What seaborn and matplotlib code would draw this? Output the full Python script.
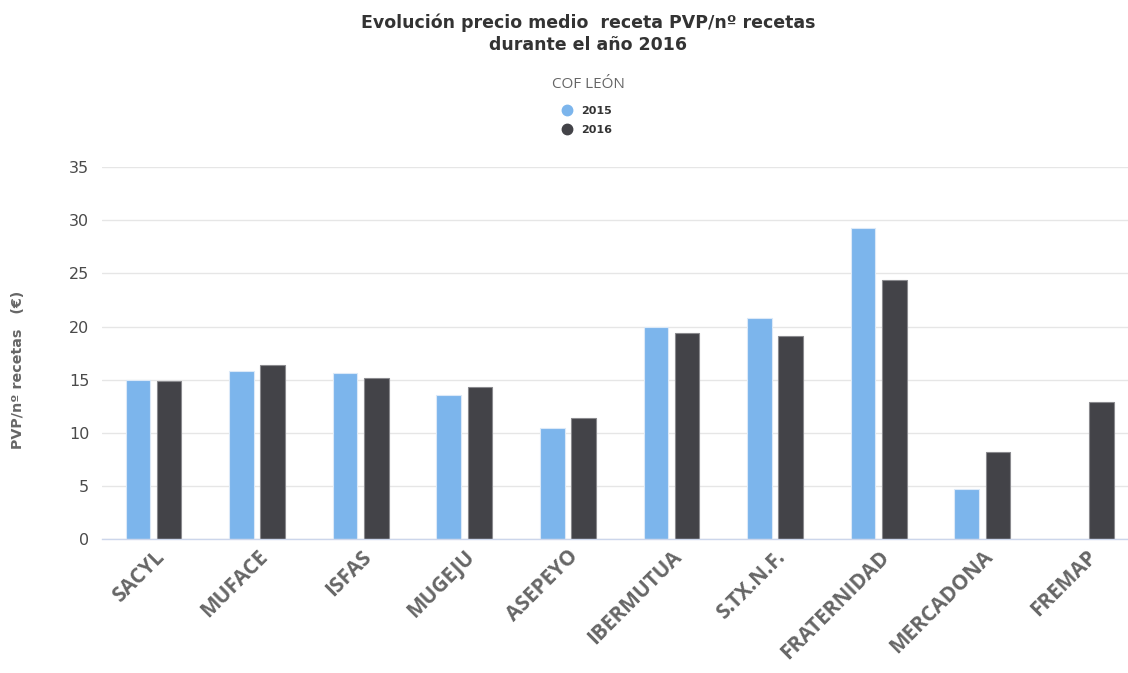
"""
Evolución precio medio receta PVP/nº recetas - COF León
"""

import pandas as pd
import numpy as np
import matplotlib
matplotlib.use("Agg")
import matplotlib.pyplot as plt
from matplotlib.lines import Line2D
import seaborn as sns

# ── Data
entidades = ["SACYL", "MUFACE", "ISFAS", "MUGEJU", "ASEPEYO",
             "IBERMUTUA", "S.TX.N.F.", "FRATERNIDAD", "MERCADONA", "FREMAP"]
precio_2015 = [15.0, 15.8, 15.6, 13.6, 10.5, 20.0, 20.8, 29.3, 4.7, 0.0]
precio_2016 = [14.9, 16.4, 15.2, 14.3, 11.4, 19.4, 19.1, 24.4, 8.2, 12.9]
years = ["2015", "2016"]
yticks = [0, 5, 10, 15, 20, 25, 30, 35]

COLORS = {"2015": "#7cb5ec", "2016": "#434348"}

df = pd.DataFrame({
    "entidad": entidades * 2,
    "year": [years[0]] * len(entidades) + [years[1]] * len(entidades),
    "valor": precio_2015 + precio_2016,
})

sns.set_theme(style="white")
plt.rcParams["font.family"] = ["DejaVu Sans"]

fig = plt.figure(figsize=(11.28, 6.73), dpi=100)
W, H = 1128, 673
ax = fig.add_axes([101.7 / W, (H - 539.3) / H, 1036 / W, 372.3 / H])

sns.barplot(data=df, x="entidad", y="valor", hue="year", order=entidades,
            hue_order=years, palette=COLORS, width=0.6, gap=0.21,
            legend=False, ax=ax, saturation=1)
for bar, ec in zip(ax.patches, ["#dbe9f8"] * len(entidades) + ["#8a8a8e"] * len(entidades)):
    bar.set_edgecolor(ec)
    bar.set_linewidth(0.8)

ax.set_xlim(-0.5, len(entidades) - 0.5)
ax.set_ylim(0, 35)
ax.set_yticks(yticks)
ax.yaxis.grid(True, color="#e6e6e6", lw=1)
ax.set_axisbelow(True)
for s in ["top", "right", "left"]:
    ax.spines[s].set_visible(False)
ax.spines["bottom"].set_color("#ccd6eb")
ax.spines["bottom"].set_linewidth(1)

ax.set_xlabel(""); ax.set_ylabel("")
ax.tick_params(axis="y", length=0, pad=9, labelsize=11.5, labelcolor="#4a4a4a")
ax.tick_params(axis="x", which="major", length=0, pad=5)
ax.set_xticks(np.arange(-0.5, len(entidades), 1), minor=True)
ax.tick_params(axis="x", which="minor", length=7, color="#ccd6eb", width=1)
ax.set_xticklabels(entidades, rotation=45, ha="right", rotation_mode="anchor",
                   fontsize=15, fontweight="bold", color="#666666",
                   family=["Open Sans", "DejaVu Sans"])

fig.text(18 / W, 1 - 370 / H, "PVP/nº recetas   (€)", rotation=90,
         ha="center", va="center", fontsize=10.3, color="#666666", fontweight="bold")

fig.text(588 / W, 1 - 34 / H, "Evolución precio medio  receta PVP/nº recetas\ndurante el año 2016",
         ha="center", va="center", fontsize=12.5, fontweight="bold", color="#333333",
         linespacing=1.3)
fig.text(588 / W, 1 - 84 / H, "COF LEÓN", ha="center", va="center",
         fontsize=11, color="#666666", family=["Open Sans", "DejaVu Sans"])

handles = [Line2D([], [], marker="o", ls="", ms=7.5, color=COLORS[y]) for y in years]
leg = fig.legend(handles, years, loc="center", bbox_to_anchor=(584 / W, 1 - 120.5 / H),
                 frameon=False, ncol=1, handletextpad=0.2, labelspacing=0.75,
                 prop={"size": 8, "weight": "bold"})
for t in leg.get_texts():
    t.set_color("#333333")

fig.savefig("out.png", dpi=100)
plt.close()
